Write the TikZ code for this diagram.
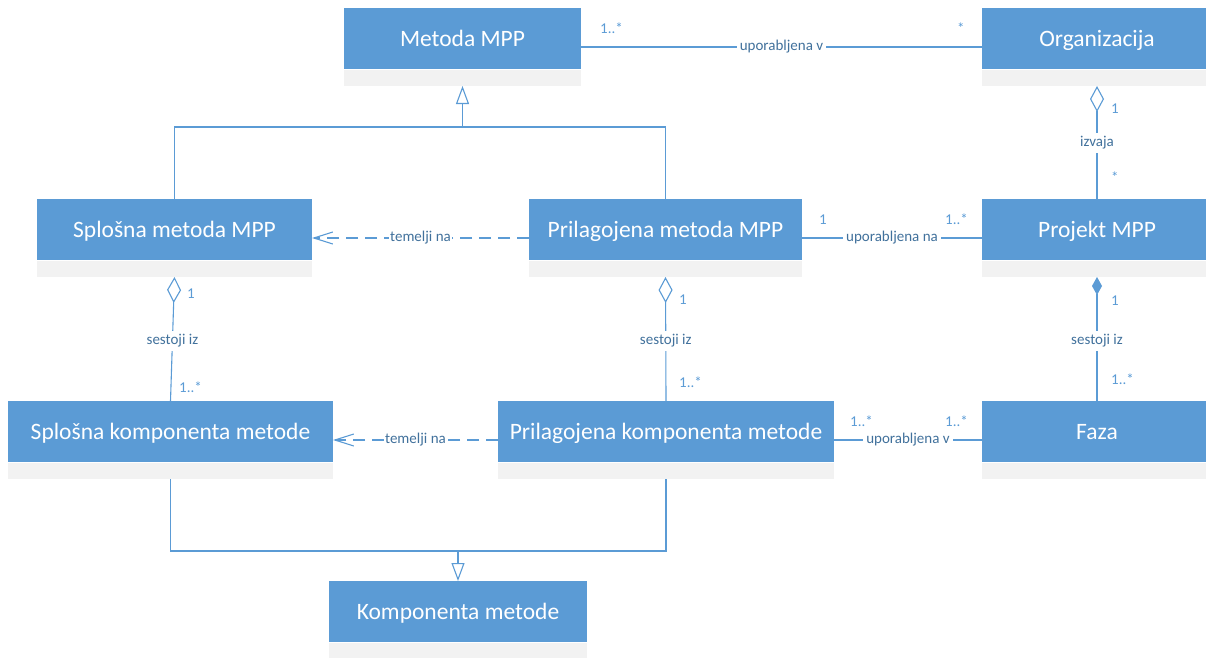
\documentclass[tikz,border=0pt]{standalone}
\usepackage{fontspec}
\setmainfont{Carlito}
\usetikzlibrary{arrows.meta}

\definecolor{boxblue}{HTML}{5B9BD5}
\definecolor{footgray}{HTML}{F2F2F2}
\definecolor{lineblue}{HTML}{5B9BD5}
\definecolor{labelblue}{HTML}{41719C}
\definecolor{multblue}{HTML}{5B9BD5}

\tikzset{
  clsframe/.style={rectangle, fill=footgray, minimum height=78pt, inner sep=0pt, outer sep=0pt},
  clshead/.style={rectangle, fill=boxblue, text=white, minimum height=61pt, inner sep=0pt,
    outer sep=0pt, font=\fontsize{23.5}{28}\selectfont, text height=15pt, text depth=0pt},
  conn/.style={draw=lineblue, line width=1.1pt},
  dep/.style={conn, dash pattern=on 12pt off 7pt, -{Straight Barb[length=19pt,width=12pt]}},
  gen/.style={conn, -{Triangle[open,length=18pt,width=13pt,fill=white]}},
  aggr/.style={conn, {Diamond[open,length=26pt,width=14pt,fill=white]}-},
  comp/.style={conn, {Diamond[length=18pt,width=10pt]}-},
  lbl/.style={fill=white, text=labelblue, font=\fontsize{15}{18}\selectfont,
    inner xsep=3pt, inner ysep=3pt, text height=10.5pt, text depth=3.5pt},
  mult/.style={text=multblue, font=\fontsize{15}{18}\selectfont, inner sep=0pt, anchor=base west},
}

% class box: name, left, top, width, title
\newcommand\umlclass[5]{%
  \node[clsframe, minimum width=#4pt, anchor=north west] (#1) at (#2,#3) {};
  \node[clshead, minimum width=#4pt, anchor=north west] (#1-name) at (#1.north west) {#5};
  \draw[white, line width=1pt] ([yshift=-0.5pt]#1-name.south west) -- ([yshift=-0.5pt]#1-name.south east);
}

\begin{document}
\begin{tikzpicture}[x=1pt, y=-1pt]
\useasboundingbox (0,0) rectangle (1206,657);

% classes
\umlclass{mm}{344}{8}{237}{Metoda MPP}
\umlclass{org}{982}{8}{230}{Organizacija}
\umlclass{sm}{37}{199}{275}{Splošna metoda MPP}
\umlclass{pm}{529}{199}{273}{Prilagojena metoda MPP}
\umlclass{pr}{982}{199}{230}{Projekt MPP}
\umlclass{sk}{8}{401}{325}{Splošna komponenta metode}
\umlclass{pk}{498}{401}{336}{Prilagojena komponenta metode}
\umlclass{fz}{982}{401}{230}{Faza}
\umlclass{km}{329}{581}{258}{Komponenta metode}

% generalization towards Metoda MPP
\coordinate (gt) at (mm.south |- 0,127);
\draw[conn] (sm.north) |- (gt) -| (pm.north);
\draw[gen] (gt) -- (mm.south);

% generalization towards Komponenta metode
\coordinate (gb) at (km.north |- 0,551);
\draw[conn] (sk.south) |- (gb) -| (pk.south);
\draw[gen] (gb) -- (km.north);

% Metoda MPP -- Organizacija
\draw[conn] (mm.east) -- node[lbl] (a1) {uporabljena v} (org.west);
\node[mult] (m1a) at ([xshift=19pt,yshift=14pt]mm.east) {1..*};
\node[mult] (m1b) at ([xshift=-25pt,yshift=14pt]org.west) {*};

% Organizacija <>-- Projekt MPP
\draw[aggr] (org.south) -- node[lbl] (a2) {izvaja} (pr.north);
\node[mult] (m2a) at ([xshift=14pt,yshift=-27pt]org.south) {1};
\node[mult] (m2b) at ([xshift=14pt,yshift=17pt]pr.north) {*};

% Prilagojena metoda MPP -- Projekt MPP
\draw[conn] (pm.east) -- node[lbl] (a3) {uporabljena na} (pr.west);
\node[mult] (m3a) at ([xshift=17pt,yshift=14pt]pm.east) {1};
\node[mult] (m3b) at ([xshift=-37pt,yshift=14pt]pr.west) {1..*};

% Projekt MPP <#>-- Faza
\draw[comp] (pr.south) -- node[lbl, pos=0.516] (a4) {sestoji iz} (fz.north);
\node[mult] (m4a) at ([xshift=14pt,yshift=-28pt]pr.south) {1};
\node[mult] (m4b) at ([xshift=14pt,yshift=17pt]fz.north) {1..*};

% Prilagojena komponenta metode -- Faza
\draw[conn] (pk.east) -- node[lbl] (a5) {uporabljena v} (fz.west);
\node[mult] (m5a) at ([xshift=16pt,yshift=14pt]pk.east) {1..*};
\node[mult] (m5b) at ([xshift=-37pt,yshift=14pt]fz.west) {1..*};

% Splošna metoda MPP <>-- Splošna komponenta metode
\draw[aggr] (sm.south) -- node[lbl, pos=0.516] (a6) {sestoji iz} (sk.north);
\node[mult] (m6a) at ([xshift=12.5pt,yshift=-21pt]sm.south) {1};
\node[mult] (m6b) at ([xshift=8.5pt,yshift=9pt]sk.north) {1..*};

% Prilagojena metoda MPP <>-- Prilagojena komponenta metode
\draw[aggr] (pm.south) -- node[lbl, pos=0.516] (a7) {sestoji iz} (pk.north);
\node[mult] (m7a) at ([xshift=13.5pt,yshift=-27pt]pm.south) {1};
\node[mult] (m7b) at ([xshift=13pt,yshift=14pt]pk.north) {1..*};

% dependencies
\draw[dep] (pm.west) -- node[lbl, inner xsep=1pt] (d1) {temelji na} (sm.east);
\draw[dep] (pk.west) -- node[lbl, inner xsep=1pt] (d2) {temelji na} (sk.east);
\end{tikzpicture}
\end{document}
